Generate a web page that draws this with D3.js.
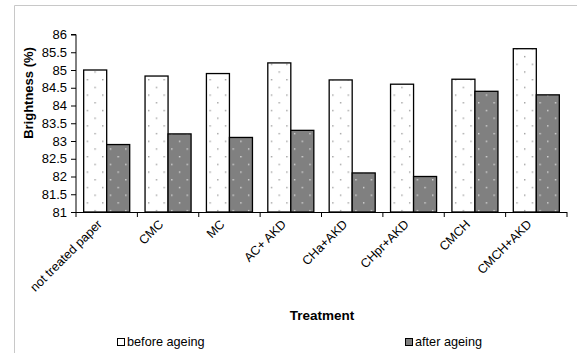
<!DOCTYPE html>
<html>
<head>
<meta charset="utf-8">
<script src="https://cdn.jsdelivr.net/npm/d3@7"></script>
<style>
  html, body { margin: 0; padding: 0; background: #fff; }
  svg { display: block; font-family: "Liberation Sans", Arial, sans-serif; }
</style>
</head>
<body>
<svg id="chart" width="577" height="353"></svg>
<script>
// Brightness of paper samples before and after ageing, per treatment
const treatments = ["not treated paper", "CMC", "MC", "AC+ AKD", "CHa+AKD", "CHpr+AKD", "CMCH", "CMCH+AKD"];
const beforeAgeing = [85.0, 84.83, 84.9, 85.2, 84.72, 84.6, 84.74, 85.6];
const afterAgeing = [82.9, 83.2, 83.1, 83.3, 82.1, 82.0, 84.4, 84.3];
const seriesNames = ["before ageing", "after ageing"];
const yTicks = [81, 81.5, 82, 82.5, 83, 83.5, 84, 84.5, 85, 85.5, 86];

const FONT = "'Liberation Sans', Arial, sans-serif";
const svg = d3.select("#chart");

// Outer frame (top and left edges)
svg.append("path")
  .attr("d", "M14.5,353 V5.5 H577")
  .attr("fill", "none")
  .attr("stroke", "#c8c8c8")
  .attr("stroke-width", 1);

// Patterns: sparse staggered dots
const defs = svg.append("defs");
function dotPattern(id, bg, dot) {
  const p = defs.append("pattern")
    .attr("id", id)
    .attr("patternUnits", "userSpaceOnUse")
    .attr("width", 15.4).attr("height", 15.4)
    .attr("x", 3).attr("y", 2);
  p.append("rect").attr("width", 15.4).attr("height", 15.4).attr("fill", bg);
  p.append("rect").attr("x", 0).attr("y", 0).attr("width", 1.4).attr("height", 1.4).attr("fill", dot);
  p.append("rect").attr("x", 7.7).attr("y", 7.7).attr("width", 1.4).attr("height", 1.4).attr("fill", dot);
}
dotPattern("patBefore", "#ffffff", "#a0a0a0");
dotPattern("patAfter", "#808080", "#d8d8d8");

const x0 = 76, x1 = 567, yTop = 34.5, yBot = 212;

const x = d3.scaleBand()
  .domain(treatments)
  .range([x0, x1])
  .paddingInner(0.25)
  .paddingOuter(0.125);

const xs = d3.scaleBand()
  .domain(seriesNames)
  .range([0, x.bandwidth()]);

const y = d3.scaleLinear().domain([81, 86]).range([yBot, yTop]);

const data = treatments.map((t, i) => ({ t, vals: [beforeAgeing[i], afterAgeing[i]] }));

// Bars
const g = svg.append("g");
const groups = g.selectAll("g.grp").data(data).join("g")
  .attr("transform", d => `translate(${x(d.t)},0)`);
groups.selectAll("rect").data(d => d.vals.map((v, k) => ({ v, k }))).join("rect")
  .attr("x", d => xs(seriesNames[d.k]))
  .attr("y", d => y(d.v))
  .attr("width", xs.bandwidth())
  .attr("height", d => y(81) - y(d.v))
  .attr("fill", d => d.k === 0 ? "url(#patBefore)" : "url(#patAfter)")
  .attr("stroke", "#000")
  .attr("stroke-width", 1.3);

// Y axis
const yAxis = d3.axisLeft(y).tickValues(yTicks).tickSize(5).tickPadding(4)
  .tickFormat(d3.format("~g"));
const yg = svg.append("g").attr("transform", `translate(${x0},0)`).call(yAxis);
yg.select(".domain").attr("stroke", "#000").attr("d", `M-5,${yTop}H0V${yBot}`);
yg.selectAll(".tick line").attr("stroke", "#000");
yg.selectAll("text").attr("font-size", 13).attr("fill", "#000")
  .attr("font-family", FONT);

// X axis: line with ticks at category boundaries
const step = x.step();
const boundaries = d3.range(treatments.length + 1).map(i => x0 + i * step);
svg.append("line")
  .attr("x1", x0 - 5).attr("x2", x1)
  .attr("y1", yBot + 0.5).attr("y2", yBot + 0.5)
  .attr("stroke", "#000");
svg.selectAll("line.xt").data(boundaries).join("line")
  .attr("class", "xt")
  .attr("x1", d => d).attr("x2", d => d)
  .attr("y1", yBot).attr("y2", yBot + 5)
  .attr("stroke", "#000");

// Category labels, rotated
svg.selectAll("text.cat").data(treatments).join("text")
  .attr("class", "cat")
  .attr("transform", d => `translate(${x(d) + x.bandwidth() / 2 - 4},${yBot + 13}) rotate(-45)`)
  .attr("text-anchor", "end")
  .attr("font-size", 12.5)
  .attr("fill", "#000")
  .text(d => d);

// Axis titles
svg.append("text")
  .attr("transform", `translate(33,93) rotate(-90)`)
  .attr("text-anchor", "middle")
  .attr("font-size", 13)
  .attr("font-weight", "bold")
  .text("Brightness (%)");

svg.append("text")
  .attr("x", 322)
  .attr("y", 320)
  .attr("text-anchor", "middle")
  .attr("font-size", 13.5)
  .attr("font-weight", "bold")
  .text("Treatment");

// Legend
const legendX = [117, 405];
const lg = svg.selectAll("g.leg").data(seriesNames).join("g")
  .attr("class", "leg")
  .attr("transform", (d, i) => `translate(${legendX[i]},338)`);
lg.append("rect")
  .attr("x", 0.5).attr("y", 0.5).attr("width", 7).attr("height", 7)
  .attr("fill", (d, i) => i === 0 ? "#fff" : "#808080")
  .attr("stroke", "#000");
lg.append("text")
  .attr("x", 10).attr("y", 8)
  .attr("font-size", 12.7)
  .text(d => d);
</script>
</body>
</html>
